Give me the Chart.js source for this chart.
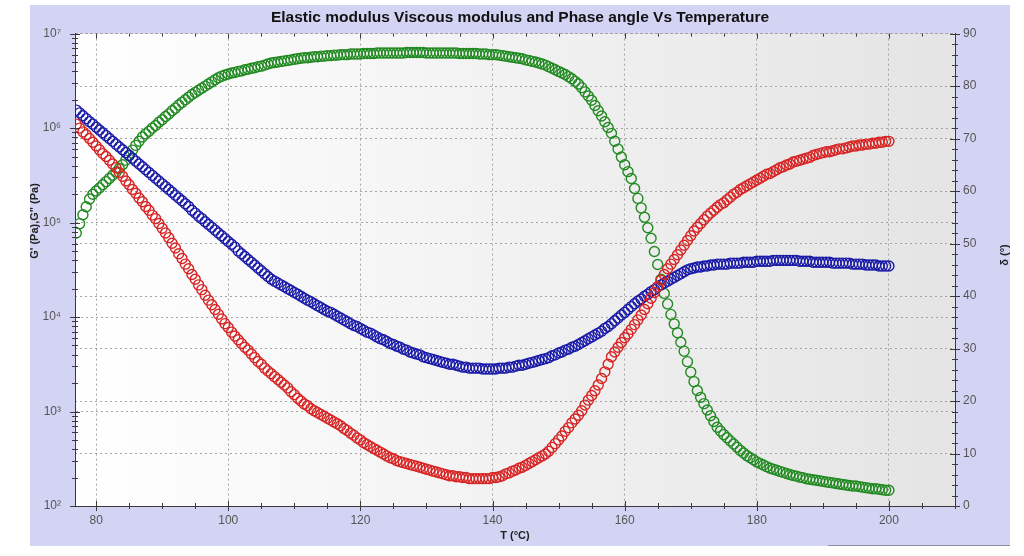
<!DOCTYPE html>
<html>
<head>
<meta charset="utf-8">
<script src="https://cdn.jsdelivr.net/npm/chart.js@4.4.0/dist/chart.umd.min.js"></script>
<style>
  html, body { margin: 0; padding: 0; background: #fff; }
  body { width: 1024px; height: 556px; position: relative; overflow: hidden; }
  .panel { position: absolute; left: 30px; top: 5px; width: 980px; height: 541px; background: #d3d3f4; }
  .edge { position: absolute; left: 828px; top: 545px; width: 182px; height: 1px; background: #8c8ca4; }
  canvas { display: block; }
</style>
</head>
<body>
<div class="panel"><canvas id="chart" width="980" height="541"></canvas></div>
<div class="edge"></div>
<script>
// temperature, degC
const temps = [
  77, 77.5, 78, 78.5, 79, 79.5, 80, 80.5, 81, 81.5,
  82, 82.5, 83, 83.5, 84, 84.5, 85, 85.5, 86, 86.5,
  87, 87.5, 88, 88.5, 89, 89.5, 90, 90.5, 91, 91.5,
  92, 92.5, 93, 93.5, 94, 94.5, 95, 95.5, 96, 96.5,
  97, 97.5, 98, 98.5, 99, 99.5, 100, 100.5, 101, 101.5,
  102, 102.5, 103, 103.5, 104, 104.5, 105, 105.5, 106, 106.5,
  107, 107.5, 108, 108.5, 109, 109.5, 110, 110.5, 111, 111.5,
  112, 112.5, 113, 113.5, 114, 114.5, 115, 115.5, 116, 116.5,
  117, 117.5, 118, 118.5, 119, 119.5, 120, 120.5, 121, 121.5,
  122, 122.5, 123, 123.5, 124, 124.5, 125, 125.5, 126, 126.5,
  127, 127.5, 128, 128.5, 129, 129.5, 130, 130.5, 131, 131.5,
  132, 132.5, 133, 133.5, 134, 134.5, 135, 135.5, 136, 136.5,
  137, 137.5, 138, 138.5, 139, 139.5, 140, 140.5, 141, 141.5,
  142, 142.5, 143, 143.5, 144, 144.5, 145, 145.5, 146, 146.5,
  147, 147.5, 148, 148.5, 149, 149.5, 150, 150.5, 151, 151.5,
  152, 152.5, 153, 153.5, 154, 154.5, 155, 155.5, 156, 156.5,
  157, 157.5, 158, 158.5, 159, 159.5, 160, 160.5, 161, 161.5,
  162, 162.5, 163, 163.5, 164, 164.5, 165, 165.5, 166, 166.5,
  167, 167.5, 168, 168.5, 169, 169.5, 170, 170.5, 171, 171.5,
  172, 172.5, 173, 173.5, 174, 174.5, 175, 175.5, 176, 176.5,
  177, 177.5, 178, 178.5, 179, 179.5, 180, 180.5, 181, 181.5,
  182, 182.5, 183, 183.5, 184, 184.5, 185, 185.5, 186, 186.5,
  187, 187.5, 188, 188.5, 189, 189.5, 190, 190.5, 191, 191.5,
  192, 192.5, 193, 193.5, 194, 194.5, 195, 195.5, 196, 196.5,
  197, 197.5, 198, 198.5, 199, 199.5, 200
];

// G' elastic modulus, Pa (red)
const storageModulus = [
  1.10e6, 1.00e6, 9.12e5, 8.51e5, 7.76e5, 7.08e5, 6.46e5, 5.89e5, 5.37e5, 5.01e5,
  4.57e5, 4.17e5, 3.80e5, 3.39e5, 3.09e5, 2.75e5, 2.51e5, 2.24e5, 2.04e5, 1.82e5,
  1.66e5, 1.48e5, 1.35e5, 1.20e5, 1.10e5, 9.77e4, 8.71e4, 7.76e4, 6.92e4, 6.03e4,
  5.37e4, 4.68e4, 4.17e4, 3.63e4, 3.24e4, 2.82e4, 2.51e4, 2.19e4, 1.95e4, 1.70e4,
  1.51e4, 1.35e4, 1.20e4, 1.07e4, 9.55e3, 8.51e3, 7.76e3, 6.92e3, 6.31e3, 5.75e3,
  5.25e3, 4.79e3, 4.47e3, 4.07e3, 3.72e3, 3.39e3, 3.16e3, 2.88e3, 2.69e3, 2.51e3,
  2.34e3, 2.19e3, 2.04e3, 1.91e3, 1.78e3, 1.62e3, 1.51e3, 1.38e3, 1.29e3, 1.20e3,
  1.15e3, 1.07e3, 1.02e3, 977, 933, 891, 851, 813, 776, 741,
  708, 661, 631, 589, 562, 525, 501, 468, 447, 427,
  407, 389, 372, 355, 339, 324, 316, 302, 295, 288,
  282, 275, 269, 263, 257, 251, 245, 240, 234, 229,
  224, 219, 214, 209, 209, 204, 204, 200, 200, 195,
  195, 195, 195, 195, 195, 195, 200, 200, 204, 209,
  219, 224, 234, 240, 251, 257, 269, 282, 295, 309,
  324, 339, 355, 380, 417, 457, 501, 550, 617, 676,
  759, 832, 912, 1.02e3, 1.17e3, 1.32e3, 1.48e3, 1.66e3, 1.91e3, 2.24e3,
  2.63e3, 3.16e3, 3.80e3, 4.27e3, 4.79e3, 5.37e3, 6.03e3, 6.61e3, 7.41e3, 8.32e3,
  9.33e3, 1.05e4, 1.20e4, 1.38e4, 1.58e4, 1.82e4, 2.09e4, 2.45e4, 2.82e4, 3.24e4,
  3.63e4, 4.07e4, 4.57e4, 5.13e4, 5.75e4, 6.46e4, 7.24e4, 8.13e4, 8.91e4, 9.77e4,
  1.07e5, 1.17e5, 1.26e5, 1.35e5, 1.45e5, 1.55e5, 1.62e5, 1.74e5, 1.86e5, 2.00e5,
  2.09e5, 2.24e5, 2.34e5, 2.45e5, 2.57e5, 2.69e5, 2.82e5, 2.95e5, 3.09e5, 3.24e5,
  3.31e5, 3.47e5, 3.63e5, 3.80e5, 3.89e5, 4.07e5, 4.17e5, 4.37e5, 4.47e5, 4.57e5,
  4.68e5, 4.79e5, 4.90e5, 5.13e5, 5.25e5, 5.37e5, 5.50e5, 5.62e5, 5.62e5, 5.75e5,
  5.89e5, 6.03e5, 6.03e5, 6.17e5, 6.31e5, 6.46e5, 6.46e5, 6.61e5, 6.61e5, 6.76e5,
  6.76e5, 6.92e5, 6.92e5, 7.08e5, 7.08e5, 7.24e5, 7.24e5
];

// G" viscous modulus, Pa (blue)
const lossModulus = [
  1.55e6, 1.45e6, 1.35e6, 1.26e6, 1.17e6, 1.10e6, 1.02e6, 9.55e5, 8.91e5, 8.32e5,
  7.76e5, 7.24e5, 6.76e5, 6.31e5, 5.89e5, 5.50e5, 5.13e5, 4.79e5, 4.47e5, 4.17e5,
  3.89e5, 3.63e5, 3.39e5, 3.16e5, 2.95e5, 2.75e5, 2.57e5, 2.40e5, 2.24e5, 2.09e5,
  1.95e5, 1.82e5, 1.70e5, 1.58e5, 1.48e5, 1.35e5, 1.26e5, 1.17e5, 1.10e5, 1.02e5,
  9.55e4, 8.91e4, 8.32e4, 7.76e4, 7.24e4, 6.76e4, 6.31e4, 5.89e4, 5.50e4, 5.01e4,
  4.68e4, 4.37e4, 4.07e4, 3.80e4, 3.55e4, 3.31e4, 3.09e4, 2.88e4, 2.69e4, 2.51e4,
  2.40e4, 2.29e4, 2.19e4, 2.09e4, 2.00e4, 1.91e4, 1.82e4, 1.74e4, 1.66e4, 1.58e4,
  1.51e4, 1.45e4, 1.38e4, 1.32e4, 1.26e4, 1.20e4, 1.15e4, 1.12e4, 1.07e4, 1.02e4,
  9.77e3, 9.33e3, 8.91e3, 8.51e3, 8.13e3, 7.94e3, 7.59e3, 7.24e3, 6.92e3, 6.76e3,
  6.46e3, 6.17e3, 5.89e3, 5.75e3, 5.50e3, 5.25e3, 5.13e3, 4.90e3, 4.79e3, 4.57e3,
  4.47e3, 4.27e3, 4.17e3, 4.07e3, 3.98e3, 3.80e3, 3.72e3, 3.63e3, 3.55e3, 3.47e3,
  3.39e3, 3.31e3, 3.24e3, 3.16e3, 3.16e3, 3.09e3, 3.02e3, 2.95e3, 2.95e3, 2.88e3,
  2.88e3, 2.88e3, 2.88e3, 2.82e3, 2.82e3, 2.82e3, 2.82e3, 2.82e3, 2.88e3, 2.88e3,
  2.88e3, 2.95e3, 2.95e3, 3.02e3, 3.09e3, 3.09e3, 3.16e3, 3.24e3, 3.31e3, 3.39e3,
  3.47e3, 3.55e3, 3.63e3, 3.72e3, 3.89e3, 3.98e3, 4.17e3, 4.27e3, 4.47e3, 4.57e3,
  4.79e3, 4.90e3, 5.13e3, 5.37e3, 5.62e3, 5.89e3, 6.17e3, 6.46e3, 6.76e3, 7.08e3,
  7.59e3, 7.94e3, 8.51e3, 9.12e3, 9.77e3, 1.05e4, 1.12e4, 1.20e4, 1.29e4, 1.38e4,
  1.48e4, 1.55e4, 1.66e4, 1.74e4, 1.86e4, 1.95e4, 2.09e4, 2.19e4, 2.29e4, 2.40e4,
  2.51e4, 2.63e4, 2.75e4, 2.88e4, 3.02e4, 3.16e4, 3.24e4, 3.31e4, 3.39e4, 3.39e4,
  3.47e4, 3.47e4, 3.55e4, 3.55e4, 3.63e4, 3.63e4, 3.63e4, 3.63e4, 3.72e4, 3.72e4,
  3.72e4, 3.72e4, 3.80e4, 3.80e4, 3.80e4, 3.80e4, 3.89e4, 3.89e4, 3.89e4, 3.89e4,
  3.89e4, 3.98e4, 3.98e4, 3.98e4, 3.98e4, 3.98e4, 3.98e4, 3.98e4, 3.98e4, 3.89e4,
  3.89e4, 3.89e4, 3.89e4, 3.80e4, 3.80e4, 3.80e4, 3.80e4, 3.80e4, 3.80e4, 3.72e4,
  3.72e4, 3.72e4, 3.72e4, 3.72e4, 3.72e4, 3.63e4, 3.63e4, 3.63e4, 3.63e4, 3.55e4,
  3.55e4, 3.55e4, 3.55e4, 3.47e4, 3.47e4, 3.47e4, 3.47e4
];

// phase angle delta, degrees (green)
const phaseAngle = [
  52, 53.8, 55.5, 57, 58.5, 59.4, 60, 60.6, 61.2, 61.8,
  62.4, 63, 63.6, 64.3, 65, 65.9, 66.8, 67.8, 68.7, 69.5,
  70.3, 70.9, 71.4, 72, 72.5, 73.1, 73.6, 74.2, 74.7, 75.3,
  75.8, 76.4, 76.9, 77.4, 77.9, 78.4, 78.8, 79.2, 79.6, 80,
  80.4, 80.8, 81.2, 81.6, 81.9, 82.1, 82.3, 82.5, 82.6, 82.8,
  82.9, 83.1, 83.2, 83.4, 83.5, 83.7, 83.8, 84, 84.2, 84.4,
  84.5, 84.6, 84.7, 84.8, 84.9, 85, 85.1, 85.2, 85.3, 85.4,
  85.4, 85.5, 85.6, 85.6, 85.7, 85.7, 85.8, 85.8, 85.9, 85.9,
  86, 86, 86, 86.1, 86.1, 86.1, 86.1, 86.2, 86.2, 86.2,
  86.2, 86.3, 86.3, 86.3, 86.3, 86.3, 86.3, 86.3, 86.3, 86.3,
  86.4, 86.4, 86.4, 86.4, 86.4, 86.4, 86.3, 86.3, 86.3, 86.3,
  86.3, 86.3, 86.3, 86.3, 86.3, 86.3, 86.2, 86.2, 86.2, 86.2,
  86.2, 86.2, 86.1, 86.1, 86.1, 86, 86, 86, 85.9, 85.8,
  85.7, 85.6, 85.5, 85.4, 85.3, 85.2, 85, 84.9, 84.7, 84.6,
  84.4, 84.2, 84, 83.7, 83.4, 83.1, 82.8, 82.5, 82.2, 81.8,
  81.4, 80.9, 80.4, 79.7, 78.9, 78.1, 77.3, 76.3, 75.3, 74.3,
  73.2, 72.1, 71, 69.5, 68, 66.5, 65, 63.7, 62.4, 60.5,
  58.6, 56.8, 55, 53, 51, 48.5, 46, 43.2, 40.5, 38.5,
  36.5, 34.7, 33, 31.2, 29.5, 27.5, 25.5, 23.7, 22, 20.7,
  19.5, 18.3, 17.2, 16.1, 15, 14.3, 13.6, 13, 12.4, 11.8,
  11.2, 10.6, 10.1, 9.6, 9.2, 8.8, 8.4, 8.1, 7.8, 7.5,
  7.2, 7, 6.8, 6.6, 6.4, 6.2, 6, 5.8, 5.7, 5.5,
  5.4, 5.2, 5.1, 5, 4.9, 4.8, 4.7, 4.6, 4.5, 4.4,
  4.3, 4.2, 4.1, 4, 3.9, 3.8, 3.8, 3.7, 3.6, 3.5,
  3.4, 3.3, 3.3, 3.2, 3.1, 3, 3
];

const tempTicks = [80, 100, 120, 140, 160, 180, 200];
const modulusTicks = [1e2, 1e3, 1e4, 1e5, 1e6, 1e7];
const modulusLabels = ['10²', '10³', '10⁴', '10⁵', '10⁶', '10⁷'];
const phaseTicks = [0, 10, 20, 30, 40, 50, 60, 70, 80, 90];

const FONT = '"Liberation Sans", Arial, sans-serif';
const GRID = '#a4a4a4';

function points(ys) {
    return temps.map((t, i) => ({ x: t, y: ys[i] }));
}

const plotBackground = {
    id: 'plotBackground',
    beforeDraw(chart) {
        const { ctx, chartArea: a } = chart;
        const g = ctx.createLinearGradient(a.left, 0, a.right, 0);
        g.addColorStop(0, '#ffffff');
        g.addColorStop(1, '#e4e4e4');
        ctx.save();
        ctx.fillStyle = g;
        ctx.fillRect(a.left, a.top, a.right - a.left, a.bottom - a.top);
        ctx.restore();
    }
};

// tick marks crossing the frame + the two y titles
const axisMarks = {
    id: 'axisMarks',
    afterDraw(chart) {
        const { ctx, chartArea: a, scales } = chart;
        ctx.save();
        ctx.strokeStyle = '#3a3a3a';
        ctx.lineWidth = 1;
        ctx.beginPath();
        for (let t = 80; t <= 210; t += 5) {
            const x = Math.round(scales.x.getPixelForValue(t)) + 0.5;
            const len = tempTicks.includes(t) ? 5 : 3;
            ctx.moveTo(x, a.bottom - len); ctx.lineTo(x, a.bottom + len);
            ctx.moveTo(x, a.top); ctx.lineTo(x, a.top + len);
        }
        for (let d = 100; d < 1e7; d *= 10) {
            for (let k = 1; k <= 10; k++) {
                const y = Math.round(scales.y.getPixelForValue(d * k)) + 0.5;
                const len = (k === 1 || k === 10) ? 5 : 3;
                ctx.moveTo(a.left - len, y); ctx.lineTo(a.left + len, y);
            }
        }
        for (let p = 0; p <= 90; p += 2) {
            const y = Math.round(scales.y1.getPixelForValue(p)) + 0.5;
            const len = p % 10 === 0 ? 5 : 3;
            ctx.moveTo(a.right - len, y); ctx.lineTo(a.right + len, y);
        }
        ctx.stroke();

        ctx.fillStyle = '#222';
        ctx.font = 'bold 11px ' + FONT;
        ctx.textAlign = 'center';
        ctx.textBaseline = 'middle';
        ctx.translate(5, 216);
        ctx.rotate(-Math.PI / 2);
        ctx.fillText('G\' (Pa),G" (Pa)', 0, 0);
        ctx.setTransform(1, 0, 0, 1, 0, 0);
        ctx.translate(975, 250);
        ctx.rotate(-Math.PI / 2);
        ctx.fillText('δ (°)', 0, 0);
        ctx.restore();
    }
};

const marker = { backgroundColor: 'rgba(0,0,0,0)', pointRadius: 5, pointBorderWidth: 1.4 };

const ctx = document.getElementById('chart').getContext('2d');

new Chart(ctx, {
    type: 'scatter',
    data: {
        datasets: [
            { label: 'G\'', data: points(storageModulus), yAxisID: 'y', borderColor: 'rgb(216, 36, 36)', ...marker },
            { label: 'G"', data: points(lossModulus), yAxisID: 'y', borderColor: 'rgb(26, 26, 168)', ...marker },
            { label: 'δ', data: points(phaseAngle), yAxisID: 'y1', borderColor: 'rgb(34, 138, 34)', ...marker }
        ]
    },
    options: {
        responsive: false,
        animation: false,
        devicePixelRatio: 1,
        layout: { padding: 0 },
        plugins: {
            legend: { display: false },
            tooltip: { enabled: false },
            title: {
                display: true,
                text: 'Elastic modulus Viscous modulus and Phase angle Vs Temperature',
                color: '#111',
                font: { family: FONT, size: 15.5, weight: 'bold' },
                padding: { top: 3, bottom: 7 }
            }
        },
        scales: {
            x: {
                type: 'linear',
                min: 76.8,
                max: 210,
                afterBuildTicks: s => { s.ticks = tempTicks.map(v => ({ value: v })); },
                afterFit: s => { s.height = 40; },
                ticks: { color: '#555', font: { family: FONT, size: 12 }, padding: 7, maxRotation: 0 },
                grid: { color: GRID, drawTicks: false },
                border: { color: '#3a3a3a', dash: [2, 3] },
                title: {
                    display: true,
                    text: 'T (°C)',
                    color: '#222',
                    font: { family: FONT, size: 11, weight: 'bold' },
                    padding: { top: 0, bottom: 3 }
                }
            },
            y: {
                type: 'logarithmic',
                position: 'left',
                min: 100,
                max: 1e7,
                afterBuildTicks: s => { s.ticks = modulusTicks.map(v => ({ value: v })); },
                afterFit: s => { s.width = 45; },
                ticks: {
                    color: '#555',
                    font: { family: FONT, size: 12 },
                    padding: 14,
                    callback: v => modulusLabels[modulusTicks.indexOf(v)]
                },
                grid: { color: GRID, drawTicks: false },
                border: { color: '#3a3a3a', dash: [2, 3] }
            },
            y1: {
                type: 'linear',
                position: 'right',
                min: 0,
                max: 90,
                afterBuildTicks: s => { s.ticks = phaseTicks.map(v => ({ value: v })); },
                afterFit: s => { s.width = 55; },
                ticks: { color: '#555', font: { family: FONT, size: 12 }, padding: 8 },
                grid: { color: GRID, drawTicks: false },
                border: { color: '#3a3a3a', dash: [2, 3] }
            }
        }
    },
    plugins: [plotBackground, axisMarks]
});
</script>
</body>
</html>
